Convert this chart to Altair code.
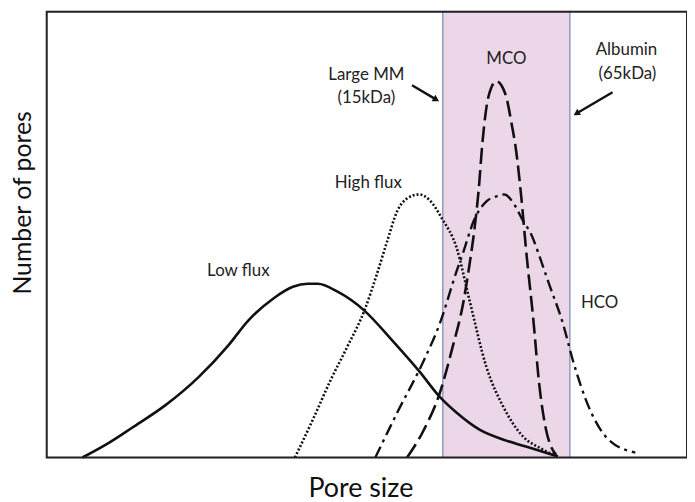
import math
import altair as alt
import pandas as pd

# Coordinates (x: pore size units, y: number of pores units)
X0, YB = 47, 458  # reference frame origin used when reading values

low_flux_x = [83, 110, 133, 167, 200, 230, 250, 275, 295, 310, 320, 340, 367, 395, 423, 443, 460, 483, 510, 533, 562]
low_flux_y = [458, 443, 428, 405, 377, 345, 320, 298, 286, 283, 283, 291, 310, 340, 372, 397, 413, 430, 441, 448, 457]

high_flux_x = [297, 315, 333, 350, 367, 380, 390, 400, 410, 422, 433, 445, 460, 473, 490, 507, 527, 545, 562]
high_flux_y = [458, 420, 380, 346, 310, 272, 240, 210, 197, 193, 199, 217, 247, 300, 367, 407, 437, 449, 457]

mco_x = [410, 427, 443, 455, 467, 473, 478, 482, 486, 490, 495, 500, 505, 510, 515, 520, 525, 530, 537, 543, 550, 555, 560]
mco_y = [458, 430, 393, 350, 300, 263, 227, 190, 140, 105, 85, 79, 83, 95, 120, 150, 195, 250, 317, 383, 430, 447, 455]

hco_x = [378, 400, 427, 443, 460, 467, 477, 490, 500, 508, 518, 527, 535, 545, 553, 567, 577, 593, 613, 640]
hco_y = [458, 413, 360, 323, 270, 250, 220, 200, 195, 193, 203, 220, 233, 260, 283, 323, 360, 407, 440, 453]

band_x = [446, 574]

label_text = ["Low flux", "High flux", "Large MM", "(15kDa)", "MCO", "Albumin", "(65kDa)", "HCO"]
label_x = [240, 371, 369, 369, 510, 631, 632, 604]
label_y = [275, 187, 78, 101, 62, 53, 77, 307]

arrow_x1 = [415, 617]
arrow_y1 = [83, 90]
arrow_x2 = [442, 578]
arrow_y2 = [99, 113]

W, H = 645, 450


def cx(v):
    return v - X0


def cy(v):
    return YB - v


def series(name, xs, ys):
    return pd.DataFrame({"x": [cx(a) for a in xs], "y": [cy(b) for b in ys], "s": name})


xs = alt.Scale(domain=[0, W], nice=False, zero=False)
ys = alt.Scale(domain=[0, H], nice=False, zero=False)

band_df = pd.DataFrame({"x": [cx(band_x[0])], "x2": [cx(band_x[1])], "y": [0], "y2": [H]})
band = alt.Chart(band_df).mark_rect(color="#ecd7e8").encode(
    x=alt.X("x:Q", scale=xs, axis=alt.Axis(title="Pore size", labels=False, ticks=False, domain=False,
                                           grid=False, titleFont="Lato", titleFontSize=27,
                                           titleFontWeight="normal", titleColor="#111",
                                           titlePadding=18, titleX=316)),
    x2="x2:Q",
    y=alt.Y("y:Q", scale=ys, axis=alt.Axis(title="Number of pores", labels=False, ticks=False,
                                           domain=False, grid=False, titleFont="Lato", titleFontSize=25,
                                           titleFontWeight="normal", titleColor="#111",
                                           titlePadding=11, titleY=193)),
    y2="y2:Q",
)

edge_df = pd.DataFrame({"x": [cx(v) for v in band_x]})
edges = alt.Chart(edge_df).mark_rule(color="#8e9bc5", strokeWidth=1.5).encode(
    x=alt.X("x:Q", scale=xs), y=alt.value(0), y2=alt.value(H)
)


def curve(df, dash, width=2.4):
    kw = dict(color="#111", strokeWidth=width, interpolate="monotone")
    if dash:
        kw["strokeDash"] = dash
    return alt.Chart(df).mark_line(**kw).encode(
        x=alt.X("x:Q", scale=xs), y=alt.Y("y:Q", scale=ys), order="x:Q"
    )


l_low = curve(series("Low flux", low_flux_x, low_flux_y), None, 2.6)
l_high = curve(series("High flux", high_flux_x, high_flux_y), [2, 2], 2.6)
l_mco = curve(series("MCO", mco_x, mco_y), [16, 6], 2.6)
l_hco = curve(series("HCO", hco_x, hco_y), [12, 5, 3, 5], 2.4)

lab_df = pd.DataFrame({"t": label_text, "x": [cx(v) for v in label_x], "y": [cy(v) for v in label_y]})
labels = alt.Chart(lab_df).mark_text(font="Lato", fontSize=17, color="#222", align="center",
                                     baseline="alphabetic").encode(
    x=alt.X("x:Q", scale=xs), y=alt.Y("y:Q", scale=ys), text="t:N"
)

ang = []
for a, b, c, d in zip(arrow_x1, arrow_y1, arrow_x2, arrow_y2):
    t = math.degrees(math.atan2(c - a, -(d - b)))
    ang.append(t % 360)
arr_df = pd.DataFrame({
    "x": [cx(v) for v in arrow_x1], "y": [cy(v) for v in arrow_y1],
    "x2": [cx(v) for v in arrow_x2], "y2": [cy(v) for v in arrow_y2], "a": ang,
})
seg = ((arr_df["x2"] - arr_df["x"]) ** 2 + (arr_df["y2"] - arr_df["y"]) ** 2) ** 0.5
arr_df["hx"] = arr_df["x2"] - 3 * (arr_df["x2"] - arr_df["x"]) / seg
arr_df["hy"] = arr_df["y2"] - 3 * (arr_df["y2"] - arr_df["y"]) / seg
shafts = alt.Chart(arr_df).mark_rule(color="#111", strokeWidth=2.4).encode(
    x=alt.X("x:Q", scale=xs), y=alt.Y("y:Q", scale=ys), x2="hx:Q", y2="hy:Q"
)
heads = alt.Chart(arr_df).mark_point(shape="triangle-up", filled=True, color="#111", size=55, opacity=1).encode(
    x=alt.X("hx:Q", scale=xs), y=alt.Y("hy:Q", scale=ys), angle=alt.Angle("a:Q", scale=None)
)

frame = alt.Chart(band_df).mark_rect(fillOpacity=0, stroke="#222", strokeWidth=2).encode(
    x=alt.value(0), x2=alt.value(W), y=alt.value(1), y2=alt.value(H)
)

chart = alt.layer(band, edges, l_low, l_high, l_hco, l_mco, shafts, heads, labels, frame).properties(
    width=W, height=H,
    autosize=alt.AutoSizeParams(type="none"),
    padding={"left": 39, "top": 1, "right": 0, "bottom": 44},
).configure_view(stroke=None).configure(background="white")

chart.save("out.html", embed_options={"renderer": "svg", "actions": False})
